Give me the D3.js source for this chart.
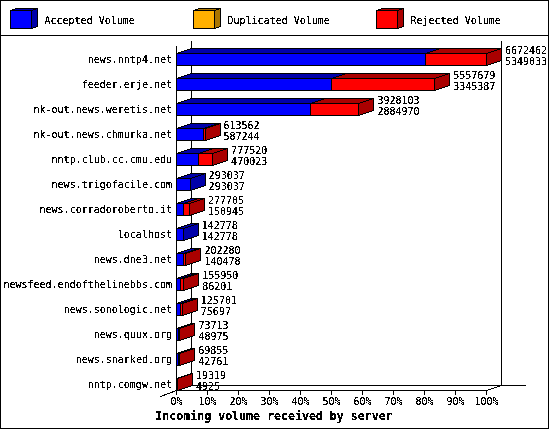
<!DOCTYPE html>
<html>
<head>
<meta charset="utf-8">
<script src="https://d3js.org/d3.v7.min.js"></script>
<style>
  html, body { margin: 0; padding: 0; background: #fff; }
  svg { display: block; }
  text { font-family: "DejaVu Sans Mono", monospace; font-size: 10px; fill: #000; }
  .title { font-size: 11.6px; font-weight: bold; }
</style>
</head>
<body>
<svg id="chart" width="550" height="430"></svg>
<script>
// Values
const servers = ["news.nntp4.net", "feeder.erje.net", "nk-out.news.weretis.net", "nk-out.news.chmurka.net",
  "nntp.club.cc.cmu.edu", "news.trigofacile.com", "news.corradoroberto.it", "localhost", "news.dne3.net",
  "newsfeed.endofthelinebbs.com", "news.sonologic.net", "news.quux.org", "news.snarked.org", "nntp.comgw.net"];
const totalVolume = [6672462, 5557679, 3928103, 613562, 777520, 293037, 277705, 142778, 202280, 155950, 125701, 73713, 69855, 19319];
const acceptedVolume = [5349033, 3345387, 2884970, 587244, 470023, 293037, 150945, 142778, 140478, 86201, 75697, 48975, 42761, 4925];
const legendNames = ["Accepted Volume", "Duplicated Volume", "Rejected Volume"];
const legendFront = ["#0000ff", "#ffb000", "#ff0000"];
const legendDark = ["#0000aa", "#aa7500", "#aa0000"];
const percentTicks = [0, 10, 20, 30, 40, 50, 60, 70, 80, 90, 100];
const axisTitle = "Incoming volume received by server";

const W = 549, H = 429;
const depthX = 15, depthY = 5, barH = 12;

const svg = d3.select("#chart");

// text without antialiasing, the original is a bitmap font
const f = svg.append("defs").append("filter").attr("id", "hard")
  .attr("color-interpolation-filters", "sRGB");
f.append("feComponentTransfer").append("feFuncA")
  .attr("type", "discrete").attr("tableValues", "0 0 0 1 1 1 1 1");

const x = d3.scaleLinear().domain([0, 100]).range([176, 486]);
const y = d3.scalePoint().domain(servers).range([53, 378]);
const maxTotal = d3.max(totalVolume);
const pct = v => v / maxTotal * 100;

const lines = svg.append("g").attr("transform", "translate(0.5,0.5)")
  .attr("shape-rendering", "crispEdges");

function line(g, x1, y1, x2, y2) {
  g.append("line").attr("x1", x1).attr("y1", y1).attr("x2", x2).attr("y2", y2)
    .attr("stroke", "#000");
}

// frame and legend separator
lines.append("rect").attr("width", W - 1).attr("height", H - 1).attr("fill", "#fff").attr("stroke", "#000");
line(lines, 0, 35, W - 1, 35);

// a box with top and side faces
function cube(g, x0, x1, yTop, h, dx, dy, front, dark) {
  g.append("polygon")
    .attr("points", [[x0, yTop], [x0 + dx, yTop - dy], [x1 + dx, yTop - dy], [x1, yTop]].join(" "))
    .attr("fill", dark).attr("stroke", "#000");
  g.append("polygon")
    .attr("points", [[x1, yTop], [x1 + dx, yTop - dy], [x1 + dx, yTop + h - dy], [x1, yTop + h]].join(" "))
    .attr("fill", dark).attr("stroke", "#000");
  g.append("rect").attr("x", x0).attr("y", yTop).attr("width", x1 - x0).attr("height", h)
    .attr("fill", front).attr("stroke", "#000");
}

// legend
legendNames.forEach((name, i) => {
  const lx = 10 + 183 * i;
  cube(lines, lx, lx + 21, 10, 18, 6, 2, legendFront[i], legendDark[i]);
});
const txt = svg.append("g").attr("filter", "url(#hard)");
txt.selectAll(".legend").data(legendNames).join("text")
  .attr("class", "legend")
  .attr("x", (d, i) => 44.5 + 183 * i)
  .attr("y", 24)
  .text(d => d);

// walls of the plot
const plotTop = 45, plotBottom = 390;
line(lines, x(0), plotTop, x(0), plotBottom);
line(lines, x(0) + depthX, plotTop - depthY, x(0) + depthX, plotBottom - depthY);
line(lines, x(100) + depthX, plotTop - depthY, x(100) + depthX, plotBottom - depthY);
line(lines, x(0) + depthX, plotBottom - depthY, 525, plotBottom - depthY);
line(lines, x(0), plotBottom, x(100), plotBottom);
line(lines, x(0) - 16, plotBottom + 6, x(0), plotBottom);
line(lines, x(100), plotBottom, x(100) + depthX, plotBottom - depthY);

// x axis ticks
const axis = d3.axisBottom(x).tickValues(percentTicks).tickSize(4).tickFormat(d => d + "%");
const axisG = svg.append("g").attr("transform", "translate(0," + (plotBottom + 0.5) + ")").call(axis);
axisG.select(".domain").remove();
axisG.selectAll(".tick line").attr("stroke", "#000").attr("shape-rendering", "crispEdges");
axisG.selectAll(".tick text").attr("y", 7).attr("dy", "0.71em").attr("filter", "url(#hard)");

// bars: accepted, then rejected on top of it
servers.forEach((s, i) => {
  const x0 = Math.round(x(0));
  const xa = Math.round(x(pct(acceptedVolume[i])));
  const xt = Math.round(x(pct(totalVolume[i])));
  const t = y(s);
  cube(lines, x0, xa, t, barH, depthX, depthY, legendFront[0], legendDark[0]);
  if (xt > xa) cube(lines, xa, xt, t, barH, depthX, depthY, legendFront[2], legendDark[2]);
});

// server names
txt.raise();
txt.selectAll(".cat").data(servers).join("text")
  .attr("class", "cat")
  .attr("x", 172)
  .attr("y", d => y(d) + 10)
  .attr("text-anchor", "end")
  .text(d => d);

// value labels, total over accepted
txt.selectAll(".total").data(servers).join("text")
  .attr("class", "total")
  .attr("x", (d, i) => x(pct(totalVolume[i])) + depthX + 4)
  .attr("y", d => y(d) + 1)
  .text((d, i) => totalVolume[i]);
txt.selectAll(".accepted").data(servers).join("text")
  .attr("class", "accepted")
  .attr("x", (d, i) => x(pct(totalVolume[i])) + depthX + 4)
  .attr("y", d => y(d) + 12)
  .text((d, i) => acceptedVolume[i]);

// axis title
txt.append("text").attr("class", "title")
  .attr("x", 274).attr("y", 420).attr("text-anchor", "middle")
  .text(axisTitle);
</script>
</body>
</html>
